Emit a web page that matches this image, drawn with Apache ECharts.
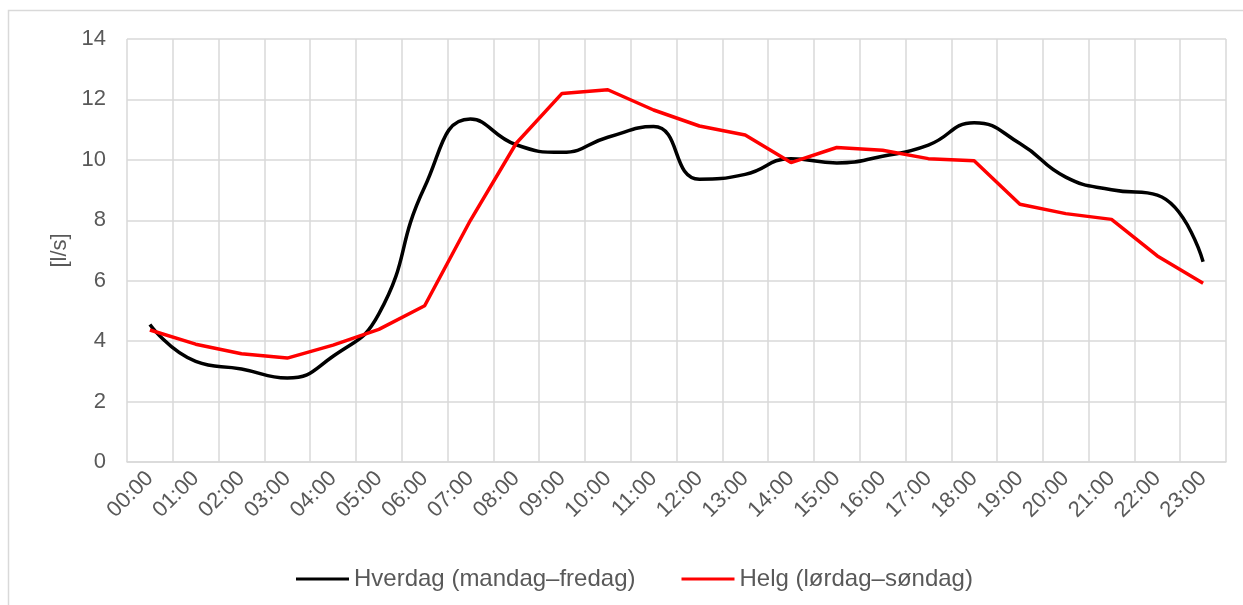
<!DOCTYPE html>
<html>
<head>
<meta charset="utf-8">
<script src="https://cdn.jsdelivr.net/npm/echarts@6/dist/echarts.min.js"></script>
<style>
  html, body { margin: 0; padding: 0; background: #fff; }
  #chart { width: 1243px; height: 605px; }
</style>
</head>
<body>
<div id="chart"></div>
<script>
// hours of the day
const hours = [
  "00:00", "01:00", "02:00", "03:00", "04:00", "05:00", "06:00", "07:00",
  "08:00", "09:00", "10:00", "11:00", "12:00", "13:00", "14:00", "15:00",
  "16:00", "17:00", "18:00", "19:00", "20:00", "21:00", "22:00", "23:00",
];

// weekday flow [l/s]
const weekday = [
  4.55, 3.33, 3.08, 2.78, 3.5, 4.9, 9.1, 11.35,
  10.5, 10.25, 10.75, 11.1, 9.36, 9.52, 10.04, 9.9,
  10.12, 10.49, 11.23, 10.54, 9.43, 9.01, 8.83, 6.63,
];

// weekend flow [l/s]
const weekend = [
  4.37, 3.9, 3.58, 3.44, 3.87, 4.39, 5.17, 8.0,
  10.55, 12.2, 12.32, 11.65, 11.12, 10.82, 9.91, 10.41,
  10.32, 10.04, 9.97, 8.53, 8.22, 8.03, 6.82, 5.92,
];

const yTicks = { min: 0, max: 14, interval: 2 };

const gridColor = "#d9d9d9";
const textColor = "#595959";
const font = "Liberation Sans, Arial, sans-serif";

function renderChart() {
  const chart = echarts.init(document.getElementById("chart"));

  const options = {
    animation: false,
    backgroundColor: "#fff",
    textStyle: { fontFamily: font },
    graphic: [
      {
        type: "rect",
        shape: { x: 8.5, y: 10.5, width: 1400, height: 800 },
        style: { fill: "none", stroke: gridColor, lineWidth: 1.5 },
        silent: true,
      },
    ],
    grid: { left: 127, right: 17, top: 39, bottom: 143 },
    legend: {
      top: 562,
      left: 291,
      icon: "rect",
      itemWidth: 53,
      itemHeight: 3,
      itemGap: 46,
      textStyle: { color: textColor, fontSize: 24, fontFamily: font },
      data: ["Hverdag (mandag–fredag)", "Helg (lørdag–søndag)"],
    },
    xAxis: {
      type: "category",
      data: hours,
      boundaryGap: true,
      axisLine: { show: true, lineStyle: { color: gridColor, width: 1.5 } },
      axisTick: { show: false },
      splitLine: { show: true, lineStyle: { color: gridColor, width: 1.5 } },
      axisLabel: {
        rotate: 45,
        interval: 0,
        margin: 13,
        color: textColor,
        fontSize: 22,
        fontFamily: font,
      },
    },
    yAxis: {
      type: "value",
      min: yTicks.min,
      max: yTicks.max,
      interval: yTicks.interval,
      name: "[l/s]",
      nameLocation: "middle",
      nameGap: 55,
      nameRotate: 90,
      nameTextStyle: { color: textColor, fontSize: 22, fontFamily: font },
      axisLine: { show: false },
      axisTick: { show: false },
      splitLine: { show: true, lineStyle: { color: gridColor, width: 1.5 } },
      axisLabel: { color: textColor, fontSize: 22, margin: 21, fontFamily: font },
    },
    series: [
      {
        name: "Hverdag (mandag–fredag)",
        type: "line",
        data: weekday,
        smooth: 0.5,
        symbol: "none",
        itemStyle: { color: "#000000" },
        lineStyle: { color: "#000000", width: 3.5 },
      },
      {
        name: "Helg (lørdag–søndag)",
        type: "line",
        data: weekend,
        smooth: false,
        symbol: "none",
        itemStyle: { color: "#ff0000" },
        lineStyle: { color: "#ff0000", width: 3.5 },
      },
    ],
  };

  chart.setOption(options);
}

document.addEventListener("DOMContentLoaded", renderChart);
</script>
</body>
</html>
